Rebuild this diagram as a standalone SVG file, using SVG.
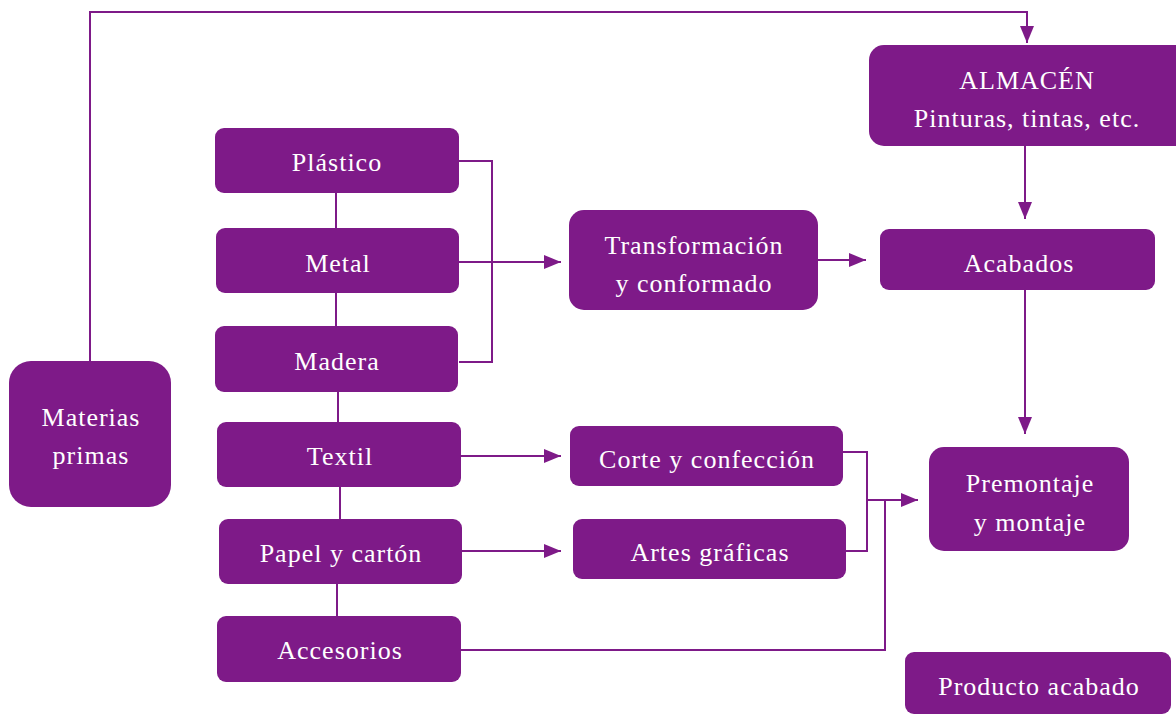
<svg xmlns="http://www.w3.org/2000/svg" width="1176" height="715" viewBox="0 0 1176 715">
<defs>
<style>
.n{fill:#7E1A88}
.t{fill:#fff;font-family:"Liberation Serif","DejaVu Serif",serif;font-size:26px;letter-spacing:1px;text-anchor:middle}
.c{fill:none;stroke:#7E1A88;stroke-width:2}
</style>
<marker id="ah" viewBox="0 0 17 14" refX="17" refY="7" markerWidth="17" markerHeight="14" markerUnits="userSpaceOnUse" orient="auto">
<path d="M0,0L17,7L0,14z" fill="#7E1A88"/>
</marker>
</defs>
<rect width="1176" height="715" fill="#fff"/>
<g id="connectors">
<path class="c" d="M336,193V228M336,293V326M338,392V422M340,487V519M337,584V616"/>
<path class="c" d="M459,161H492V362H459"/>
<path class="c" d="M459,262H561" marker-end="url(#ah)"/>
<path class="c" d="M818,260H866" marker-end="url(#ah)"/>
<path class="c" d="M461,456H561" marker-end="url(#ah)"/>
<path class="c" d="M462,551H561" marker-end="url(#ah)"/>
<path class="c" d="M843,452H867V551H846"/>
<path class="c" d="M867,500H918" marker-end="url(#ah)"/>
<path class="c" d="M461,650H885V500"/>
<path class="c" d="M90,361V12H1027V43" marker-end="url(#ah)"/>
<path class="c" d="M1025,146V219" marker-end="url(#ah)"/>
<path class="c" d="M1025,290V434" marker-end="url(#ah)"/>
</g>
<g id="plastico"><rect class="n" x="215" y="128" width="244" height="65" rx="9"/><text class="t" x="337" y="171">Plástico</text></g>
<g id="metal"><rect class="n" x="216" y="228" width="243" height="65" rx="9"/><text class="t" x="338" y="272">Metal</text></g>
<g id="madera"><rect class="n" x="215" y="326" width="243" height="66" rx="9"/><text class="t" x="337" y="370">Madera</text></g>
<g id="textil"><rect class="n" x="217" y="422" width="244" height="65" rx="9"/><text class="t" x="340" y="465">Textil</text></g>
<g id="papel"><rect class="n" x="219" y="519" width="243" height="65" rx="9"/><text class="t" x="341" y="562">Papel y cartón</text></g>
<g id="accesorios"><rect class="n" x="217" y="616" width="244" height="66" rx="9"/><text class="t" x="340" y="659">Accesorios</text></g>
<g id="materias"><rect class="n" x="9" y="361" width="162" height="146" rx="22"/><text class="t" x="91" y="426">Materias</text><text class="t" x="91" y="464">primas</text></g>
<g id="transformacion"><rect class="n" x="569" y="210" width="249" height="100" rx="15"/><text class="t" x="694" y="254">Transformación</text><text class="t" x="694" y="292">y conformado</text></g>
<g id="corte"><rect class="n" x="570" y="426" width="273" height="60" rx="9"/><text class="t" x="707" y="468">Corte y confección</text></g>
<g id="artes"><rect class="n" x="573" y="519" width="273" height="60" rx="9"/><text class="t" x="710" y="561">Artes gráficas</text></g>
<g id="almacen"><rect class="n" x="869" y="45" width="320" height="101" rx="15"/><text class="t" x="1027" y="89">ALMACÉN</text><text class="t" x="1027" y="127">Pinturas, tintas, etc.</text></g>
<g id="acabados"><rect class="n" x="880" y="229" width="275" height="61" rx="9"/><text class="t" x="1019" y="272">Acabados</text></g>
<g id="premontaje"><rect class="n" x="929" y="447" width="200" height="104" rx="15"/><text class="t" x="1030" y="492">Premontaje</text><text class="t" x="1030" y="531">y montaje</text></g>
<g id="producto"><rect class="n" x="905" y="652" width="266" height="62" rx="9"/><text class="t" x="1039" y="695">Producto acabado</text></g>
</svg>
